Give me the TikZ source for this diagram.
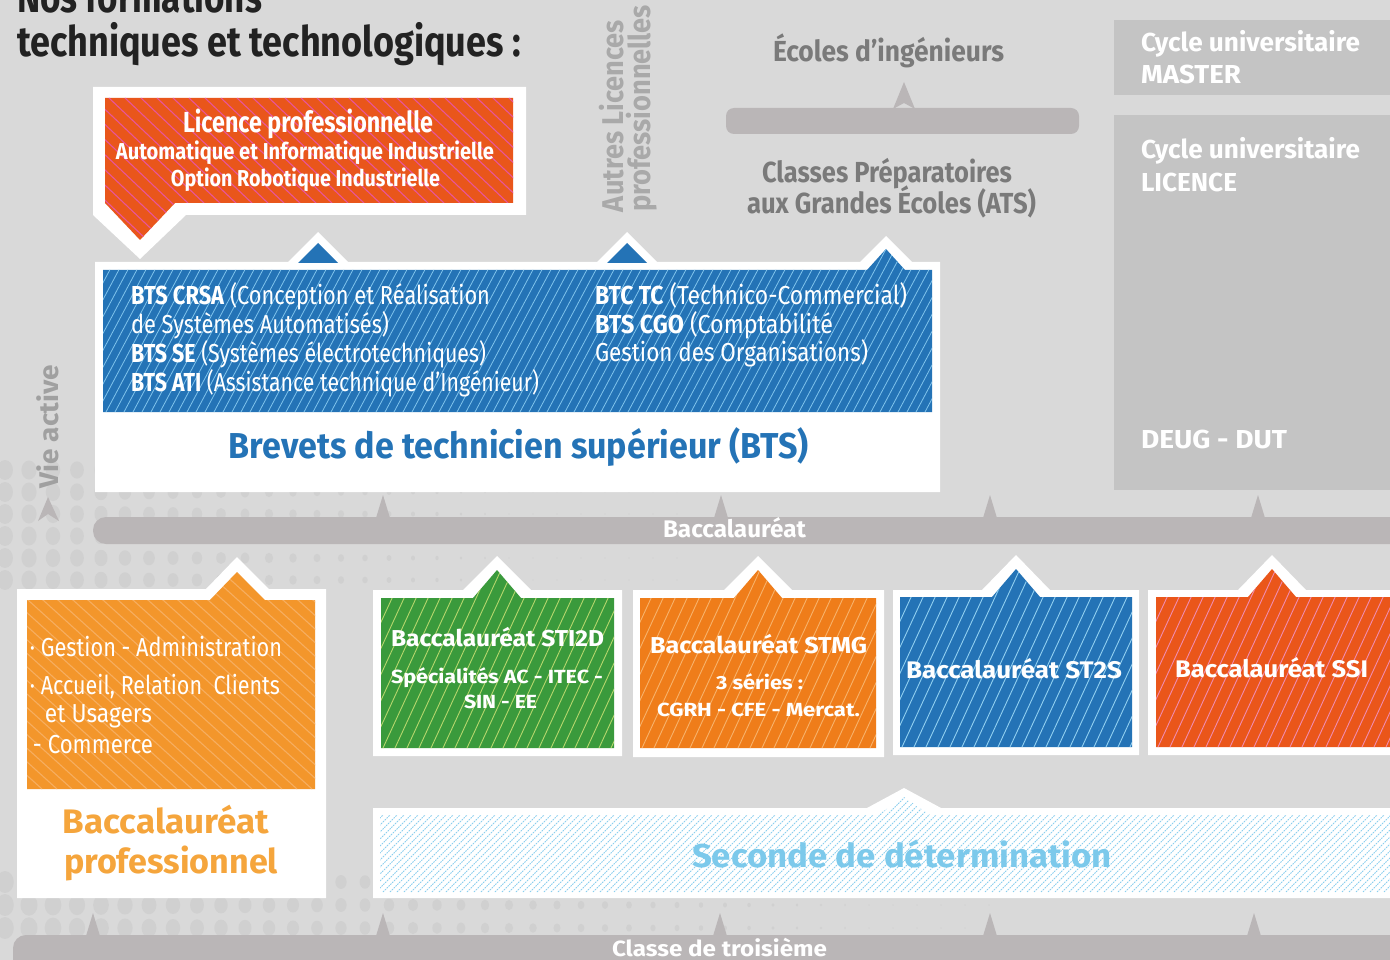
\documentclass[tikz,border=0pt]{standalone}
\usepackage{fontspec}
\setmainfont{Fira Sans}
\usepackage{graphicx}
\newcommand\fw[2]{\resizebox{#1pt}{\height}{#2}}
\newcommand\fz[1]{\fontsize{#1pt}{#1pt}\selectfont}
\newcommand\hatch[8]{%
\begin{scope}
\clip #1;
\pgfmathsetmacro\hA{#2-abs(#6)}%
\pgfmathsetmacro\hB{#2-abs(#6)+#7}%
\pgfmathsetmacro\hC{#3+abs(#6)}%
\foreach \hx in {\hA,\hB,...,\hC}{\draw[#8] (\hx,#5) -- ++(#6,#4-#5);}
\end{scope}}
\definecolor{bg}{HTML}{D9D9D9}
\definecolor{dotc}{HTML}{D0D0D0}
\definecolor{barc}{HTML}{BAB6B7}
\definecolor{boxg}{HTML}{C4C4C4}
\definecolor{titlec}{HTML}{222222}
\definecolor{grayA}{HTML}{A9A9A9}
\definecolor{grayT}{HTML}{7A7A7A}
\definecolor{grayV}{HTML}{A0A0A0}
\definecolor{lporange}{HTML}{E9561B}
\definecolor{lpstripe}{HTML}{E8559A}
\definecolor{btsblue}{HTML}{2473B6}
\definecolor{btsstripe}{HTML}{7FC3EC}
\definecolor{bporange}{HTML}{F3962B}
\definecolor{bpstripe}{HTML}{F6AE60}
\definecolor{bptext}{HTML}{F5A53C}
\definecolor{stigreen}{HTML}{3A9A3C}
\definecolor{stistripe}{HTML}{B5D66C}
\definecolor{stmgorange}{HTML}{EF7D1A}
\definecolor{stmgstripe}{HTML}{F7B26B}
\definecolor{sttwostripe}{HTML}{90CFF0}
\definecolor{ssired}{HTML}{EA561A}
\definecolor{ssistripe}{HTML}{F08BB0}
\definecolor{secstripe}{HTML}{8ACFEE}
\definecolor{sectext}{HTML}{7CC9EB}
\tikzset{
  txt/.style={inner sep=0pt, outer sep=0pt, anchor=base},
  txtw/.style={inner sep=0pt, outer sep=0pt, anchor=base west},
  whiteframe/.style={fill=white, draw=none},
  spike/.style={fill=barc, draw=none},
  bar/.style={fill=barc, draw=none, rounded corners=13pt},
}
\begin{document}
\begin{tikzpicture}[x=1pt,y=-1pt]
\useasboundingbox (0,0) rectangle (1390,960);
\clip (0,0) rectangle (1390,960);
\fill[bg] (0,0) rectangle (1390,960);
% halftone dots
\foreach \yy in {470,492,514,536,558,580} {
  \foreach \xx in {5,29,...,700} {
    \pgfmathsetmacro\rr{max(0.8,10-\xx/55)}
    \fill[dotc] (\xx,\yy) ellipse ({\rr*0.8} and \rr);
  }
}
\foreach \yy in {882,905,928} {
  \foreach \xx in {5,29,...,1000} {
    \pgfmathsetmacro\rr{max(0.8,11-\xx/85)}
    \fill[dotc] (\xx,\yy) ellipse ({\rr*0.8} and \rr);
  }
}
% right column boxes
\fill[boxg] (1114,20) rectangle (1395,95);
\fill[boxg] (1114,115) rectangle (1395,490);
% CPGE bar and arrow
\fill[barc, rounded corners=8pt] (726,108) rectangle (1079,134);
\fill[barc] (893,109) -- (904,82) -- (915,109) -- (904,103) -- cycle;
% Baccalaureat bar and spikes
\foreach \sx in {383,721,990,1258} {\fill[spike] (\sx-7,518) -- (\sx,495) -- (\sx+7,518) -- cycle;}
\fill[bar] (93,517) rectangle (1420,544);
% Vie active arrow
\fill[barc] (38,521) -- (48,497) -- (59,521) -- (48,514) -- cycle;
% troisieme bar and spikes
\foreach \sx in {93,383,720,990,1254} {\fill[spike] (\sx-7,936) -- (\sx,913) -- (\sx+7,936) -- cycle;}
\fill[bar] (13,935) rectangle (1420,995);

% ===== Licence professionnelle
\fill[whiteframe] (93,87) -- (526,87) -- (526,215) -- (186,215) -- (140,259) -- (93,215) -- cycle;
\fill[lporange] (105,98) -- (513,98) -- (513,203) -- (175,203) -- (140,240) -- (105,203) -- cycle;
\hatch{(105,98) -- (513,98) -- (513,203) -- (175,203) -- (140,240) -- (105,203) -- cycle}{105}{513}{98}{240}{-150}{16}{lpstripe, line width=1.1pt}

% ===== BTS
\fill[whiteframe] (95,262) -- (860,262) -- (886,236) -- (912,262) -- (940,262) -- (940,492) -- (95,492) -- cycle;
\fill[btsblue] (103,270) -- (867,270) -- (886,249) -- (905,270) -- (932,270) -- (932,412) -- (103,412) -- cycle;
\hatch{(103,270) -- (867,270) -- (886,249) -- (905,270) -- (932,270) -- (932,412) -- (103,412) -- cycle}{103}{932}{249}{412}{87}{9}{btsstripe, line width=0.8pt}
\foreach \tx in {318,627} {
  \fill[whiteframe] (\tx-31,263) -- (\tx,232) -- (\tx+31,263) -- cycle;
  \fill[btsblue] (\tx-20,263) -- (\tx,243) -- (\tx+20,263) -- cycle;
}

% ===== Bac pro
\fill[whiteframe] (17,589) -- (206,589) -- (237,557) -- (269,589) -- (326,589) -- (326,898) -- (17,898) -- cycle;
\fill[bporange] (27,600) -- (210,600) -- (237,572) -- (265,600) -- (315,600) -- (315,789) -- (27,789) -- cycle;
\hatch{(27,600) -- (210,600) -- (237,572) -- (265,600) -- (315,600) -- (315,789) -- (27,789) -- cycle}{27}{315}{572}{789}{-240}{15}{bpstripe, line width=1.1pt}

% ===== STI2D
\fill[whiteframe] (373,590) -- (463,590) -- (497,556) -- (531,590) -- (622,590) -- (622,756) -- (373,756) -- cycle;
\fill[stigreen] (381,598) -- (473,598) -- (497,570) -- (521,598) -- (614,598) -- (614,748) -- (381,748) -- cycle;
\hatch{(381,598) -- (473,598) -- (497,570) -- (521,598) -- (614,598) -- (614,748) -- (381,748) -- cycle}{381}{614}{570}{748}{82}{12}{stistripe, line width=0.9pt}

% ===== STMG
\fill[whiteframe] (633,590) -- (724,590) -- (758,556) -- (792,590) -- (884,590) -- (884,757) -- (633,757) -- cycle;
\fill[stmgorange] (640,598) -- (734,598) -- (758,570) -- (782,598) -- (876,598) -- (876,748) -- (640,748) -- cycle;
\hatch{(640,598) -- (734,598) -- (758,570) -- (782,598) -- (876,598) -- (876,748) -- (640,748) -- cycle}{640}{876}{570}{748}{82}{12}{stmgstripe, line width=0.9pt}

% ===== ST2S
\fill[whiteframe] (893,590) -- (982,590) -- (1016,555) -- (1050,590) -- (1139,590) -- (1139,755) -- (893,755) -- cycle;
\fill[btsblue] (900,597) -- (992,597) -- (1016,569) -- (1040,597) -- (1132,597) -- (1132,747) -- (900,747) -- cycle;
\hatch{(900,597) -- (992,597) -- (1016,569) -- (1040,597) -- (1132,597) -- (1132,747) -- (900,747) -- cycle}{900}{1132}{569}{747}{82}{12}{sttwostripe, line width=0.9pt}

% ===== SSI
\fill[whiteframe] (1148,590) -- (1238,590) -- (1272,555) -- (1306,590) -- (1395,590) -- (1395,755) -- (1148,755) -- cycle;
\fill[ssired] (1156,597) -- (1248,597) -- (1272,569) -- (1296,597) -- (1395,597) -- (1395,747) -- (1156,747) -- cycle;
\hatch{(1156,597) -- (1248,597) -- (1272,569) -- (1296,597) -- (1395,597) -- (1395,747) -- (1156,747) -- cycle}{1156}{1395}{569}{747}{82}{12}{ssistripe, line width=0.9pt}

% ===== Seconde
\fill[whiteframe] (373,808) -- (867,808) -- (904,788) -- (941,808) -- (1395,808) -- (1395,898) -- (373,898) -- cycle;
\hatch{(380,815) -- (878,815) -- (904,797) -- (930,815) -- (1395,815) -- (1395,892) -- (380,892) -- cycle}{380}{1395}{797}{892}{95}{7}{secstripe, line width=0.8pt, dash pattern=on 1.6pt off 1pt}

% ===== Texts
\node[txtw, font=\fz{42}\bfseries, text=titlec] (t1) at (17,13) {\fw{245}{Nos formations}};
\node[txtw, font=\fz{42}\bfseries, text=titlec] (t2) at (17,57) {\fw{504}{techniques et technologiques :}};

\node[txt, font=\fz{29}\bfseries, text=white] (lp1) at (308,133) {\fw{250}{Licence professionnelle}};
\node[txt, font=\fz{23}\bfseries, text=white] (lp2) at (305,160) {\fw{378}{Automatique et Informatique Industrielle}};
\node[txt, font=\fz{23}\bfseries, text=white] (lp3) at (305.5,187) {\fw{269}{Option Robotique Industrielle}};

\node[txtw, rotate=90, font=\fz{30}\bfseries, text=grayA] (al1) at (623,212) {\fw{192}{Autres Licences}};
\node[txtw, rotate=90, font=\fz{30}\bfseries, text=grayA] (al2) at (650,212) {\fw{207}{professionnelles}};

\node[txt, font=\fz{29}\bfseries, text=grayT] (ec) at (888.5,62) {\fw{231}{Écoles d’ingénieurs}};
\node[txt, font=\fz{29}\bfseries, text=grayT] (cp1) at (887,183) {\fw{250}{Classes Préparatoires}};
\node[txt, font=\fz{29}\bfseries, text=grayT] (cp2) at (891.5,214) {\fw{289}{aux Grandes Écoles (ATS)}};

\node[txtw, font=\fz{26}\bfseries, text=white] (c1) at (1141,52) {\fw{219}{Cycle universitaire}};
\node[txtw, font=\fz{26}\bfseries, text=white] (c2) at (1141,84) {\fw{100}{MASTER}};
\node[txtw, font=\fz{26}\bfseries, text=white] (c3) at (1141,159) {\fw{219}{Cycle universitaire}};
\node[txtw, font=\fz{26}\bfseries, text=white] (c4) at (1141,192) {\fw{96}{LICENCE}};
\node[txtw, font=\fz{26}\bfseries, text=white] (c5) at (1141,448) {\fw{146}{DEUG - DUT}};

\node[txtw, font=\fz{26}, text=white] (b1) at (131,304) {\fw{359}{\textbf{BTS CRSA} (Conception et Réalisation}};
\node[txtw, font=\fz{26}, text=white] (b2) at (131,333) {\fw{258}{de Systèmes Automatisés)}};
\node[txtw, font=\fz{26}, text=white] (b3) at (131,362) {\fw{355}{\textbf{BTS SE} (Systèmes électrotechniques)}};
\node[txtw, font=\fz{26}, text=white] (b4) at (131,391) {\fw{408}{\textbf{BTS ATI} (Assistance technique d’Ingénieur)}};
\node[txtw, font=\fz{26}, text=white] (b5) at (595,304) {\fw{312}{\textbf{BTC TC} (Technico-Commercial)}};
\node[txtw, font=\fz{26}, text=white] (b6) at (595,333) {\fw{238}{\textbf{BTS CGO} (Comptabilité}};
\node[txtw, font=\fz{26}, text=white] (b7) at (595,361) {\fw{273}{Gestion des Organisations)}};
\node[txt, font=\fz{36}\bfseries, text=btsblue] (bts) at (519,458) {\fw{580}{Brevets de technicien supérieur (BTS)}};

\node[txtw, rotate=90, font=\fz{27}\bfseries, text=grayV] (va) at (58,488) {\fw{123}{Vie active}};

\node[txt, font=\fz{24}\bfseries, text=white] (bac) at (734.5,537) {\fw{143}{Baccalauréat}};

\node[txtw, font=\fz{26}, text=white] (bp1) at (30,656) {\fw{252}{· Gestion - Administration}};
\node[txtw, font=\fz{26}, text=white] (bp2) at (30,694) {\fw{250}{· Accueil, Relation\ \ Clients}};
\node[txtw, font=\fz{26}, text=white] (bp3) at (45,722) {\fw{107}{et Usagers}};
\node[txtw, font=\fz{26}, text=white] (bp4) at (33,753) {\fw{120}{- Commerce}};
\node[txtw, font=\fz{34}\bfseries, text=bptext] (bpt1) at (63,833) {\fw{206}{Baccalauréat}};
\node[txtw, font=\fz{34}\bfseries, text=bptext] (bpt2) at (64,873) {\fw{214}{professionnel}};

\node[txt, font=\fz{23}\bfseries, text=white] (s1) at (497.5,646) {\fw{213}{Baccalauréat STI2D}};
\node[txt, font=\fz{19}\bfseries, text=white] (s2) at (497,683) {\fw{212}{Spécialités AC - ITEC -}};
\node[txt, font=\fz{19}\bfseries, text=white] (s3) at (500.5,708) {\fw{73}{SIN - EE}};

\node[txt, font=\fz{23}\bfseries, text=white] (m1) at (758.5,653) {\fw{217}{Baccalauréat STMG}};
\node[txt, font=\fz{19}\bfseries, text=white] (m2) at (759.5,689) {\fw{87}{3 séries :}};
\node[txt, font=\fz{19}\bfseries, text=white] (m3) at (758.5,716) {\fw{203}{CGRH - CFE - Mercat.}};

\node[txt, font=\fz{24}\bfseries, text=white] (h1) at (1014,678) {\fw{216}{Baccalauréat ST2S}};
\node[txt, font=\fz{24}\bfseries, text=white] (r1) at (1271.5,677) {\fw{193}{Baccalauréat SSI}};

\node[txt, font=\fz{33}\bfseries, text=sectext] (sd) at (902,867) {\fw{420}{Seconde de détermination}};
\node[txt, font=\fz{22}\bfseries, text=white] (ct) at (719.5,956) {\fw{215}{Classe de troisième}};
\end{tikzpicture}
\end{document}
